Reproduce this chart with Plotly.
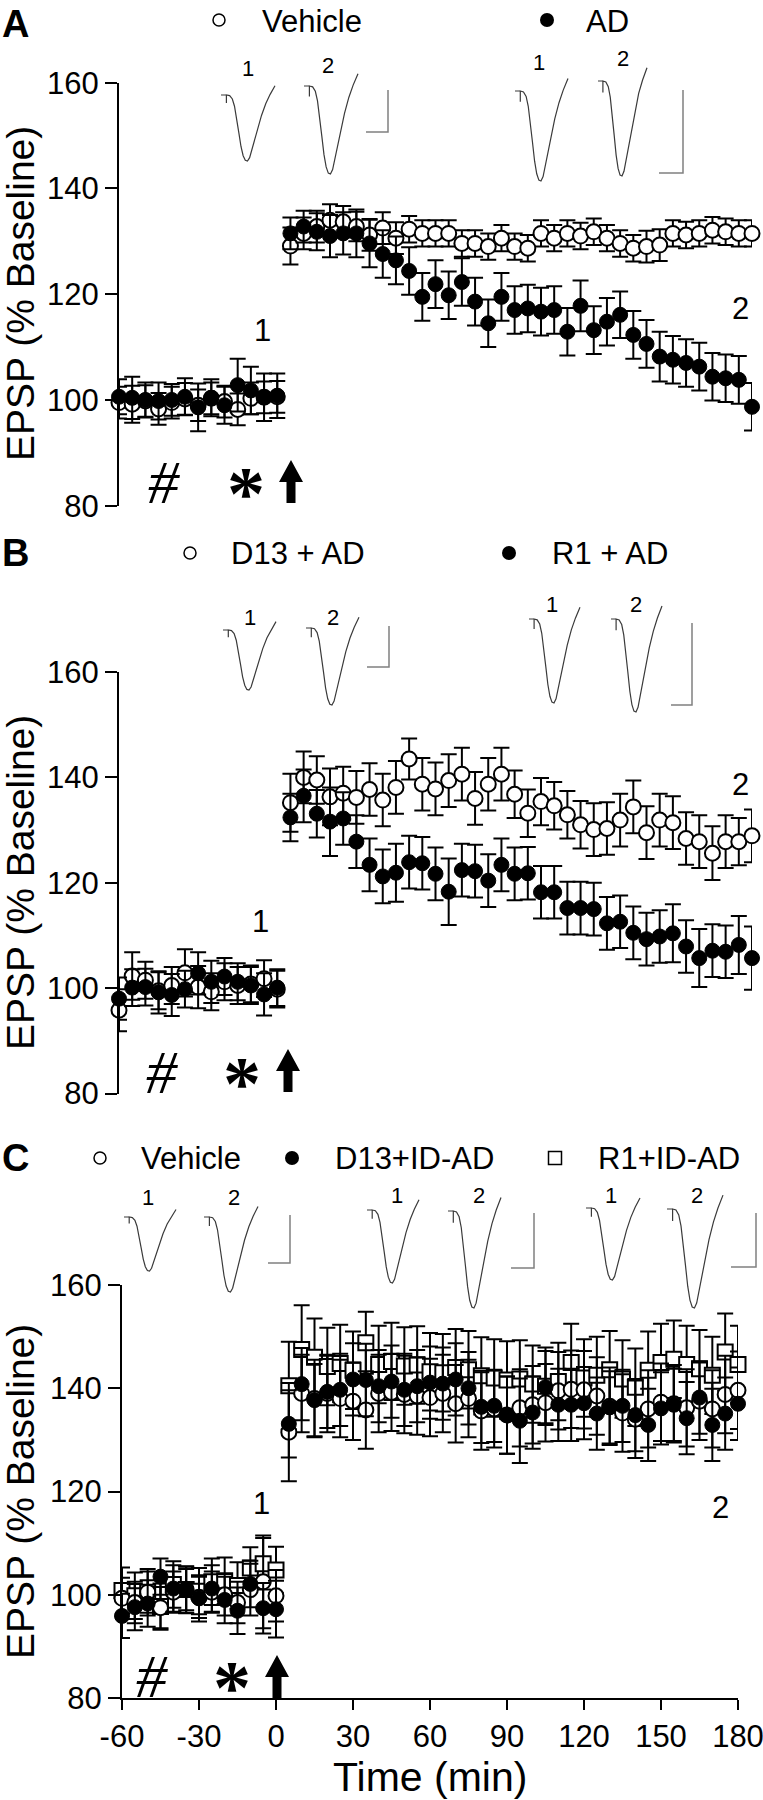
import plotly.graph_objects as go

W, H = 763, 1800
FONT = "Liberation Sans, Arial, sans-serif"
SERIF = "Liberation Serif, Times New Roman, serif"

# ---------------- data ----------------
TIME = list(range(-60, 181, 5))  # 49 points, 5-min bins

# Panel A
A_VEH = [99.5, 99.2, 99.8, 98.3, 99.5, 100.2, 99.0, 100.3, 99.7, 98.2, 100.3, 100.5, 100.6,
         129.1, 131.5, 132.8, 134.0, 133.7, 132.8, 131.2, 132.5, 130.6, 132.3, 131.5, 131.5,
         131.5, 129.6, 129.6, 129.0, 130.6, 129.0, 128.7, 131.5, 130.6, 131.5, 131.0, 131.8,
         130.6, 129.6, 128.7, 129.0, 129.3, 131.5, 131.2, 131.5, 132.1, 131.8, 131.5, 131.5]
A_VEH_ERR = [3.0, 3.5, 3.0, 3.0, 3.0, 3.0, 3.0, 3.0, 3.0, 3.0, 3.0, 3.0, 3.0,
             3.5, 3.0, 3.0, 3.0, 3.0, 2.8, 3.0, 3.0, 3.0, 2.5, 2.5, 2.5,
             2.5, 2.5, 2.5, 2.5, 2.5, 2.5, 2.5, 2.5, 2.5, 2.5, 2.5, 2.5,
             2.5, 2.5, 2.5, 3.0, 3.0, 2.5, 2.5, 2.5, 2.5, 2.5, 2.5, 2.5]
A_AD = [100.6, 100.4, 100.0, 99.8, 100.0, 100.6, 98.6, 100.4, 99.0, 102.8, 101.8, 100.5, 100.8,
        131.5, 132.8, 131.8, 131.0, 131.5, 131.5, 129.6, 127.6, 126.4, 124.4, 119.5, 121.9,
        119.8, 122.3, 118.6, 114.5, 119.5, 117.0, 117.3, 116.7, 117.0, 112.9, 117.8, 113.2,
        114.8, 116.1, 112.3, 110.6, 108.2, 107.6, 107.0, 106.3, 104.4, 104.1, 103.8, 98.7]
A_AD_ERR = [3.3, 4.0, 3.3, 3.5, 3.0, 3.5, 4.5, 3.5, 3.5, 5.0, 4.5, 4.5, 4.2,
            3.0, 3.0, 3.5, 4.0, 4.0, 4.5, 4.5, 4.5, 4.5, 4.5, 4.5, 4.5,
            4.5, 4.5, 4.5, 4.5, 4.5, 4.5, 4.5, 4.5, 4.5, 4.5, 4.8, 4.5,
            4.5, 4.4, 4.5, 4.5, 4.7, 4.5, 4.5, 4.5, 4.5, 4.5, 4.5, 4.5]

# Panel B
B_D13 = [95.8, 102.3, 101.5, 99.5, 100.5, 102.9, 100.2, 99.3, 101.2, 100.5, 100.8, 101.8, 99.8,
         135.2, 140.0, 139.5, 136.3, 137.0, 136.2, 137.7, 135.7, 138.1, 143.5, 138.7, 137.8,
         139.4, 140.6, 136.0, 138.7, 140.6, 136.8, 133.2, 135.4, 134.6, 132.9, 131.0, 130.1,
         130.3, 131.9, 134.4, 129.5, 131.9, 131.4, 128.4, 127.8, 125.6, 127.8, 127.8, 128.9]
B_D13_ERR = [4.0, 4.5, 3.5, 3.5, 3.5, 4.5, 4.0, 3.5, 3.5, 3.5, 3.5, 3.5, 3.5,
             5.5, 4.9, 4.5, 5.4, 5.0, 5.0, 5.0, 5.0, 5.0, 3.9, 5.0, 5.0,
             5.0, 5.0, 5.0, 5.0, 5.0, 4.5, 4.5, 4.5, 4.5, 4.5, 4.5, 5.0,
             5.0, 5.0, 5.0, 5.0, 5.0, 5.0, 5.0, 5.0, 5.1, 5.0, 4.5, 5.0]
B_R1 = [98.0, 100.1, 100.2, 99.2, 98.7, 99.8, 102.8, 101.2, 102.2, 101.2, 100.5, 98.8, 100.1,
        132.4, 136.5, 133.1, 131.6, 132.2, 127.8, 123.4, 121.2, 121.9, 123.9, 123.7, 121.7,
        118.3, 122.4, 122.2, 120.4, 123.4, 121.7, 121.8, 118.2, 118.2, 115.2, 115.2, 115.0,
        112.3, 112.6, 110.5, 109.3, 109.8, 110.4, 107.9, 105.7, 107.1, 106.9, 108.2, 105.7]
B_R1_ERR = [4.0, 3.5, 3.5, 4.0, 4.0, 3.5, 4.0, 4.0, 3.5, 3.5, 3.5, 4.0, 3.5,
            4.5, 5.0, 4.5, 6.5, 5.0, 5.0, 5.0, 5.1, 5.5, 5.0, 5.0, 5.0,
            6.3, 5.0, 5.0, 5.0, 5.0, 5.0, 5.0, 5.0, 5.0, 5.0, 5.0, 5.0,
            5.0, 5.0, 5.0, 5.0, 5.0, 5.5, 5.0, 5.5, 5.0, 5.0, 5.5, 6.0]

# Panel C
C_VEH = [99.3, 98.5, 100.5, 97.5, 100.5, 101.0, 99.5, 100.5, 100.0, 98.5, 101.0, 102.5, 99.8,
         131.5, 139.0, 138.0, 139.0, 138.0, 137.5, 135.8, 139.0, 139.2, 138.8, 138.5, 138.2,
         139.0, 137.0, 138.0, 135.6, 136.0, 134.8, 136.2, 136.8, 137.2, 139.5, 139.8, 139.7,
         138.5, 136.5, 135.2, 134.0, 136.0, 137.3, 137.0, 136.2, 137.5, 136.0, 138.8, 139.6]
C_VEH_ERR = [4.0, 4.0, 4.0, 4.0, 4.0, 4.0, 4.0, 4.0, 4.0, 4.0, 5.0, 9.0, 5.0,
             9.5, 7.5, 7.5, 7.5, 7.5, 7.5, 7.5, 7.5, 7.5, 7.5, 7.5, 7.5,
             7.5, 7.5, 7.5, 7.5, 7.5, 7.5, 7.5, 7.5, 7.5, 7.5, 7.5, 7.5,
             7.5, 7.5, 7.5, 7.5, 7.5, 7.5, 7.5, 7.5, 7.5, 7.5, 7.5, 7.5]
C_D13 = [95.9, 97.6, 98.3, 103.5, 101.2, 100.9, 99.3, 101.2, 99.0, 96.9, 102.1, 97.4, 97.2,
         133.1, 140.8, 137.7, 139.3, 139.7, 141.7, 141.6, 140.4, 141.3, 139.7, 140.4, 141.1,
         140.9, 141.7, 140.0, 136.4, 136.6, 134.8, 133.7, 135.3, 140.2, 136.8, 136.8, 137.1,
         135.1, 136.3, 136.6, 134.8, 132.9, 136.1, 136.8, 134.2, 138.2, 132.9, 135.1, 137.0]
C_D13_ERR = [4.3, 4.5, 4.5, 3.5, 4.5, 4.5, 4.5, 4.5, 4.5, 4.5, 4.5, 4.9, 5.5,
             6.5, 7.0, 7.0, 7.0, 7.0, 7.0, 7.0, 7.0, 7.0, 7.0, 7.0, 7.0,
             7.0, 7.0, 7.0, 7.0, 7.0, 7.5, 8.2, 7.0, 7.0, 7.0, 7.0, 7.0,
             7.0, 7.0, 7.0, 7.0, 7.0, 7.0, 7.0, 7.0, 7.0, 7.0, 7.0, 7.0]
C_R1 = [100.8, 99.8, 100.5, 97.7, 102.0, 101.0, 100.7, 102.5, 102.7, 101.8, 105.2, 106.0, 104.8,
        140.5, 147.5, 146.0, 144.2, 144.8, 143.5, 148.8, 144.6, 145.2, 144.3, 144.5, 143.2,
        143.0, 144.0, 143.6, 142.4, 142.0, 141.6, 141.8, 140.8, 140.4, 141.3, 145.0, 142.0,
        142.5, 143.6, 141.8, 140.2, 143.5, 145.0, 145.6, 144.6, 143.8, 142.5, 147.0, 144.6]
C_R1_ERR = [4.5, 4.5, 4.5, 4.5, 4.5, 4.5, 4.5, 4.5, 4.5, 4.5, 4.0, 5.0, 4.5,
            8.5, 8.6, 7.5, 7.5, 7.5, 7.5, 6.0, 7.5, 7.5, 7.5, 7.5, 7.5,
            7.5, 7.5, 7.5, 7.5, 7.5, 7.5, 7.5, 7.5, 7.5, 7.5, 7.5, 7.5,
            7.5, 7.5, 7.5, 7.5, 7.5, 7.5, 7.5, 7.5, 7.5, 7.5, 7.5, 7.5]

Y_TICKS = [80, 100, 120, 140, 160]
X_TICKS = [-60, -30, 0, 30, 60, 90, 120, 150, 180]
X_TICK_TEXT = ["-60", "-30", "0", "30", "60", "90", "120", "150", "180"]

# normalised EPSP waveform template (x: 0..1, y: 0 = baseline, 1 = peak, down positive)
WAVE_X = [0.00, 0.10, 0.10, 0.10, 0.16, 0.21, 0.25, 0.29, 0.33, 0.37, 0.41, 0.45, 0.49,
          0.53, 0.57, 0.62, 0.68, 0.75, 0.83, 0.91, 1.00]
WAVE_Y = [0.00, 0.00, 0.12, 0.00, 0.01, 0.06, 0.17, 0.35, 0.57, 0.78, 0.92, 0.99, 1.00,
          0.95, 0.84, 0.68, 0.50, 0.31, 0.13, -0.01, -0.14]

# ---------------- figure ----------------
fig = go.Figure()

def add_series(xa, ya, y, err, kind):
    if kind == "open":
        marker = dict(symbol="circle", size=15, color="white", line=dict(color="black", width=2))
    elif kind == "filled":
        marker = dict(symbol="circle", size=15, color="black", line=dict(color="black", width=1))
    else:
        marker = dict(symbol="square", size=15, color="white", line=dict(color="black", width=2))
    fig.add_trace(go.Scatter(
        x=TIME, y=y, mode="markers", marker=marker, xaxis=xa, yaxis=ya,
        error_y=dict(type="data", array=err, symmetric=True, color="black", thickness=2, width=8),
        cliponaxis=False, showlegend=False, hoverinfo="skip"))

add_series("x", "y", A_VEH, A_VEH_ERR, "open")
add_series("x", "y", A_AD, A_AD_ERR, "filled")
add_series("x2", "y2", B_D13, B_D13_ERR, "open")
add_series("x2", "y2", B_R1, B_R1_ERR, "filled")
add_series("x3", "y3", C_R1, C_R1_ERR, "square")
add_series("x3", "y3", C_VEH, C_VEH_ERR, "open")
add_series("x3", "y3", C_D13, C_D13_ERR, "filled")

# ---- decorations drawn on a full-page pixel overlay (x4/y4) ----
INSETS = [(221, 275, 95, 161), (304, 358, 86, 174), (515, 568, 91, 181), (598, 647, 81, 176),
          (223, 276, 630, 690), (306, 359, 628, 705), (529, 580, 619, 703), (611, 662, 619, 712),
          (124, 176, 1217, 1271), (204, 258, 1217, 1292), (367, 419, 1210, 1283),
          (448, 501, 1211, 1308), (586, 640, 1208, 1280), (667, 723, 1209, 1308)]
wx, wy = [], []
for (x0, x1, yb, yp) in INSETS:
    wx += [x0 + u * (x1 - x0) for u in WAVE_X] + [None]
    wy += [yb + v * (yp - yb) for v in WAVE_Y] + [None]
fig.add_trace(go.Scatter(x=wx, y=wy, mode="lines", line=dict(color="#3a3a3a", width=1.2),
                         xaxis="x4", yaxis="y4", showlegend=False, hoverinfo="skip"))

BARS = [(388, 90, 132, 366), (683, 90, 173, 659), (389, 626, 667, 367), (692, 623, 705, 671),
        (290, 1215, 1263, 268), (534, 1213, 1268, 511), (756, 1213, 1267, 731)]
bx, by = [], []
for (xc, yt, yb, xl) in BARS:
    bx += [xc, xc, xl, None]
    by += [yt, yb, yb, None]
fig.add_trace(go.Scatter(x=bx, y=by, mode="lines", line=dict(color="#808080", width=1.5),
                         xaxis="x4", yaxis="y4", showlegend=False, hoverinfo="skip"))

LEG_SYM = [(219, 20, "open"), (547, 20, "filled"),
           (190, 553, "open"), (509, 553, "filled"),
           (100, 1158, "open"), (292, 1158, "filled"), (555, 1158, "square")]
for (lx, ly, kind) in LEG_SYM:
    if kind == "open":
        mk = dict(symbol="circle", size=12, color="white", line=dict(color="black", width=1.5))
    elif kind == "filled":
        mk = dict(symbol="circle", size=14, color="black")
    else:
        mk = dict(symbol="square", size=13, color="white", line=dict(color="black", width=1.5))
    fig.add_trace(go.Scatter(x=[lx], y=[ly], mode="markers", marker=mk, xaxis="x4", yaxis="y4",
                             showlegend=False, hoverinfo="skip", cliponaxis=False))

ann = []
def txt(x, y, s, size, family=FONT, xanchor="center", yanchor="middle", angle=0):
    ann.append(dict(x=x, y=y, xref="x4", yref="y4", text=s, showarrow=False,
                    xanchor=xanchor, yanchor=yanchor, textangle=angle,
                    font=dict(family=family, size=size, color="black")))

txt(0, 24, "<b>A</b>", 38, xanchor="left")
txt(0, 553, "<b>B</b>", 38, xanchor="left")
txt(0, 1158, "<b>C</b>", 38, xanchor="left")
for (lx, ly, s) in [(260, 21, "Vehicle"), (584, 21, "AD"),
                    (229, 553, "D13 + AD"), (550, 553, "R1 + AD"),
                    (139, 1158, "Vehicle"), (333, 1158, "D13+ID-AD"), (596, 1158, "R1+ID-AD")]:
    txt(lx, ly, s, 31, xanchor="left")
for (lx, ly, s) in [(248, 68, "1"), (328, 65, "2"), (539, 62, "1"), (623, 58, "2"),
                    (250, 617, "1"), (333, 617, "2"), (552, 604, "1"), (636, 604, "2"),
                    (148, 1197, "1"), (234, 1197, "2"), (397, 1195, "1"), (479, 1195, "2"),
                    (611, 1195, "1"), (697, 1195, "2")]:
    txt(lx, ly, s, 22)
for (lx, ly, s) in [(262, 330, "1"), (740, 308, "2"), (260, 921, "1"), (740, 784, "2"),
                    (261, 1503, "1"), (720, 1507, "2")]:
    txt(lx, ly, s, 31)
for (lx, ly) in [(164, 482), (162, 1072), (152, 1676)]:
    txt(lx, ly, "<i>#</i>", 62, family=SERIF)
for (lx, ly) in [(246, 493), (242, 1083), (232, 1687)]:
    txt(lx, ly, "<b>*</b>", 76, family=SERIF)
for cy in [294, 883, 1492]:
    txt(20, cy, "EPSP (% Baseline)", 39, angle=-90)
txt(430, 1777, "Time (min)", 41)

shapes = []
for (ax_, yt, yb) in [(291, 460, 503), (288, 1049, 1092), (277, 1655, 1698)]:
    yh = yt + 22
    path = (f"M{ax_-4.5},{yb} L{ax_+4.5},{yb} L{ax_+4.5},{yh} L{ax_+12},{yh} "
            f"L{ax_},{yt} L{ax_-12},{yh} L{ax_-4.5},{yh} Z")
    shapes.append(dict(type="path", path=path, xref="x4", yref="y4",
                       fillcolor="black", line=dict(color="black", width=0)))

def ydom(top_px, bot_px):
    return [1 - bot_px / H, 1 - top_px / H]

yax = dict(range=[80, 160], tickvals=Y_TICKS, showline=True, linecolor="black", linewidth=2,
           ticks="outside", ticklen=12, tickwidth=2, tickcolor="black", showgrid=False,
           zeroline=False, automargin=False, ticklabeloverflow="allow",
           tickfont=dict(family=FONT, size=31, color="black"), fixedrange=True)
hid = dict(range=[-60, 180], visible=False, automargin=False, fixedrange=True,
           showgrid=False, zeroline=False)

fig.update_layout(
    template="none",
    width=W, height=H, autosize=False,
    margin=dict(l=0, r=0, t=0, b=0, pad=0),
    paper_bgcolor="white", plot_bgcolor="rgba(0,0,0,0)",
    showlegend=False,
    xaxis=dict(domain=[119 / W, 752 / W], anchor="y", **hid),
    yaxis=dict(domain=ydom(82.7, 505.7), anchor="x", **yax),
    xaxis2=dict(domain=[119 / W, 752 / W], anchor="y2", **hid),
    yaxis2=dict(domain=ydom(672, 1093.5), anchor="x2", **yax),
    xaxis3=dict(domain=[122 / W, 738 / W], range=[-60, 180], tickvals=X_TICKS,
                ticktext=X_TICK_TEXT, showline=True,
                linecolor="black", linewidth=2, ticks="outside", ticklen=10, tickwidth=2,
                tickcolor="black", showgrid=False, zeroline=False, anchor="y3",
                automargin=False, ticklabeloverflow="allow",
                tickfont=dict(family=FONT, size=31, color="black"), fixedrange=True),
    yaxis3=dict(domain=ydom(1285, 1698), anchor="x3", **yax),
    xaxis4=dict(domain=[0, 1], range=[0, W], visible=False, anchor="y4", fixedrange=True,
                automargin=False, showgrid=False, zeroline=False),
    yaxis4=dict(domain=[0, 1], range=[H, 0], visible=False, anchor="x4", fixedrange=True,
                automargin=False, showgrid=False, zeroline=False),
    annotations=ann,
    shapes=shapes,
)

fig.write_html("out.html", config={"displayModeBar": False, "staticPlot": True},
               post_script="document.body.style.margin='0px';document.body.style.overflow='hidden';")
